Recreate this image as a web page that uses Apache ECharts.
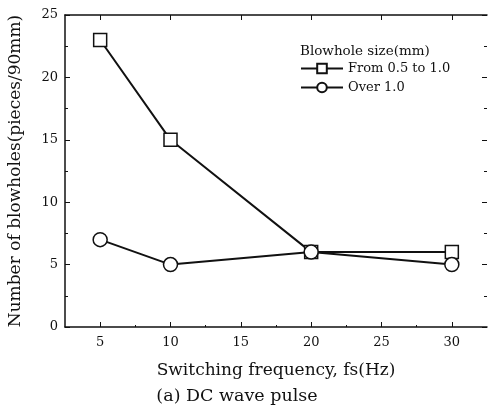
<!DOCTYPE html>
<html>
<head>
<meta charset="utf-8">
<script src="https://cdn.jsdelivr.net/npm/echarts@6/dist/echarts.min.js"></script>
<style>html,body{margin:0;padding:0;background:#fff}#c{width:489px;height:414px}</style>
</head>
<body>
<div id="c"></div>
<script>
var frequencies = [5, 10, 20, 30];
var smallBlowholes = [23, 15, 6, 6];
var largeBlowholes = [7, 5, 6, 5];
var seriesNames = ['From 0.5 to 1.0', 'Over 1.0'];
var xTicks = [5, 10, 15, 20, 25, 30];
var xMinorTicks = [7.5, 12.5, 17.5, 22.5, 27.5];

var chart = echarts.init(document.getElementById('c'), null, {renderer: 'canvas'});
var font = '"DejaVu Serif", "Liberation Serif", serif';
function pairs(xs, ys) { return xs.map(function (x, i) { return [x, ys[i]]; }); }

var option = {
  animation: false,
  backgroundColor: '#fff',
  grid: {left: 65, right: 2, top: 15, bottom: 87, outerBoundsMode: 'none', containLabel: false},
  legend: {
    left: 300, top: 62, orient: 'vertical', itemGap: 6, padding: 0,
    itemWidth: 42, itemHeight: 12,
    textStyle: {fontFamily: font, fontSize: 13, color: '#111'},
    data: seriesNames
  },
  graphic: [
    {type: 'text', left: 300, top: 44, style: {text: 'Blowhole size(mm)', font: '13.5px ' + font, fill: '#111'}},
    {type: 'text', x: 237, y: 396, style: {text: '(a) DC wave pulse', font: '17.5px ' + font, fill: '#111', align: 'center', verticalAlign: 'middle'}}
  ],
  xAxis: [
    {
      type: 'value', min: 2.5, max: 32.5, position: 'bottom',
      name: 'Switching frequency, fs(Hz)', nameLocation: 'middle', nameGap: 35,
      nameTextStyle: {fontFamily: font, fontSize: 17, color: '#111'},
      axisLine: {lineStyle: {color: '#111', width: 1.5}},
      axisTick: {inside: true, length: 5, customValues: xTicks, lineStyle: {color: '#111'}},
      axisLabel: {customValues: xTicks, fontFamily: font, fontSize: 13, color: '#111', margin: 9},
      splitLine: {show: false}
    },
    {
      type: 'value', min: 2.5, max: 32.5, position: 'top',
      axisLine: {show: true, onZero: false, lineStyle: {color: '#111', width: 1.5}},
      axisTick: {inside: true, length: 5, customValues: xTicks, lineStyle: {color: '#111'}},
      axisLabel: {show: false}, splitLine: {show: false}
    },
    {
      type: 'value', min: 2.5, max: 32.5, position: 'bottom',
      axisLine: {show: false},
      axisTick: {inside: true, length: 2, customValues: xMinorTicks, lineStyle: {color: '#111'}},
      axisLabel: {show: false}, splitLine: {show: false}
    }
  ],
  yAxis: [
    {
      type: 'value', min: 0, max: 25, interval: 5, position: 'left',
      name: 'Number of blowholes(pieces/90mm)', nameLocation: 'middle', nameGap: 41,
      nameTextStyle: {fontFamily: font, fontSize: 17, color: '#111'},
      axisLine: {show: true, lineStyle: {color: '#111', width: 1.5}},
      axisTick: {show: true, inside: true, length: 5, lineStyle: {color: '#111'}},
      minorTick: {show: true, splitNumber: 2, length: 3, lineStyle: {color: '#111'}},
      axisLabel: {fontFamily: font, fontSize: 13, color: '#111', margin: 7},
      splitLine: {show: false}
    },
    {
      type: 'value', min: 0, max: 25, interval: 5, position: 'right',
      axisLine: {show: false},
      axisTick: {show: true, inside: true, length: 5, lineStyle: {color: '#111'}},
      minorTick: {show: true, splitNumber: 2, length: 3, lineStyle: {color: '#111'}},
      axisLabel: {show: false}, splitLine: {show: false}
    }
  ],
  series: [
    {
      name: seriesNames[0], type: 'line', data: pairs(frequencies, smallBlowholes),
      symbol: 'rect', symbolSize: 13,
      lineStyle: {color: '#111', width: 2},
      itemStyle: {color: '#fff', borderColor: '#111', borderWidth: 1.5},
      z: 3
    },
    {
      name: seriesNames[1], type: 'line', data: pairs(frequencies, largeBlowholes),
      symbol: 'circle', symbolSize: 14,
      lineStyle: {color: '#111', width: 2},
      itemStyle: {color: '#fff', borderColor: '#111', borderWidth: 1.5},
      z: 4
    }
  ]
};
chart.setOption(option);
</script>
</body>
</html>
